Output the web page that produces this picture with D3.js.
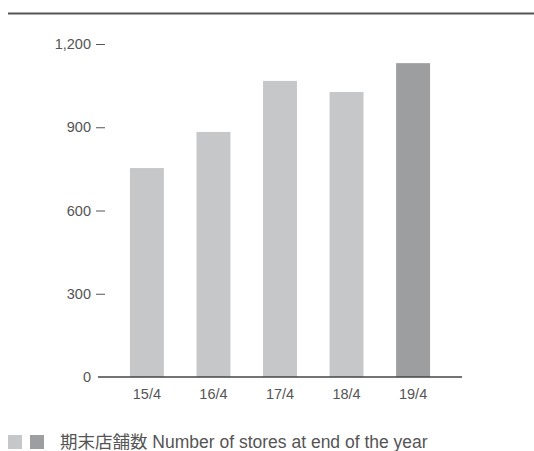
<!DOCTYPE html>
<html>
<head>
<meta charset="utf-8">
<script src="https://cdn.jsdelivr.net/npm/d3@7"></script>
<style>
  body { margin: 0; background: #fff; }
  text { font-family: "Liberation Sans", "Noto Sans CJK JP", sans-serif; fill: #555; }
</style>
</head>
<body>
<svg id="chart" width="534" height="451"></svg>
<script>
const years = ["15/4", "16/4", "17/4", "18/4", "19/4"];
const stores = [753, 883, 1067, 1027, 1131];
const barColors = ["#c6c7c9", "#c6c7c9", "#c6c7c9", "#c6c7c9", "#9d9ea0"];
const yTicks = [0, 300, 600, 900, 1200];
const legendText = "期末店舗数 Number of stores at end of the year";

const svg = d3.select("#chart");

// rule across the top
svg.append("line")
  .attr("x1", 8).attr("x2", 534)
  .attr("y1", 13.5).attr("y2", 13.5)
  .style("stroke", "#555")
  .style("stroke-width", 2);

const x = d3.scaleBand()
  .domain(years)
  .range([98, 462])
  .paddingInner(0.49)
  .paddingOuter(0.48);

const y = d3.scaleLinear()
  .domain([0, 1200])
  .range([377, 44]);

svg.append("g")
  .selectAll("rect")
  .data(years)
  .enter()
  .append("rect")
  .attr("x", (d) => x(d))
  .attr("y", (d, i) => y(stores[i]))
  .attr("width", x.bandwidth())
  .attr("height", (d, i) => y(0) - y(stores[i]))
  .style("fill", (d, i) => barColors[i]);

// y labels with a short dash after each
const yAxis = svg.append("g");
yAxis.selectAll("text")
  .data(yTicks)
  .enter()
  .append("text")
  .attr("x", 91)
  .attr("y", (d) => y(d) + 5)
  .attr("text-anchor", "end")
  .style("font-size", "14.5px")
  .text((d) => d3.format(",")(d));

yAxis.selectAll("line")
  .data(yTicks.filter((d) => d > 0))
  .enter()
  .append("line")
  .attr("x1", 96).attr("x2", 105)
  .attr("y1", (d) => y(d) + 0.5).attr("y2", (d) => y(d) + 0.5)
  .style("stroke", "#555")
  .style("stroke-width", 1);

// baseline
svg.append("line")
  .attr("x1", 98).attr("x2", 462)
  .attr("y1", y(0)).attr("y2", y(0))
  .style("stroke", "#444")
  .style("stroke-width", 1.5);

svg.append("g")
  .selectAll("text")
  .data(years)
  .enter()
  .append("text")
  .attr("x", (d) => x(d) + x.bandwidth() / 2)
  .attr("y", 399)
  .attr("text-anchor", "middle")
  .style("font-size", "14.5px")
  .text((d) => d);

// legend
const legend = svg.append("g");
legend.append("rect")
  .attr("x", 8).attr("y", 435).attr("width", 14).attr("height", 14)
  .style("fill", barColors[0]);
legend.append("rect")
  .attr("x", 30).attr("y", 435).attr("width", 14).attr("height", 14)
  .style("fill", barColors[4]);
legend.append("text")
  .attr("x", 60)
  .attr("y", 448)
  .style("font-size", "17.5px")
  .text(legendText);
</script>
</body>
</html>
